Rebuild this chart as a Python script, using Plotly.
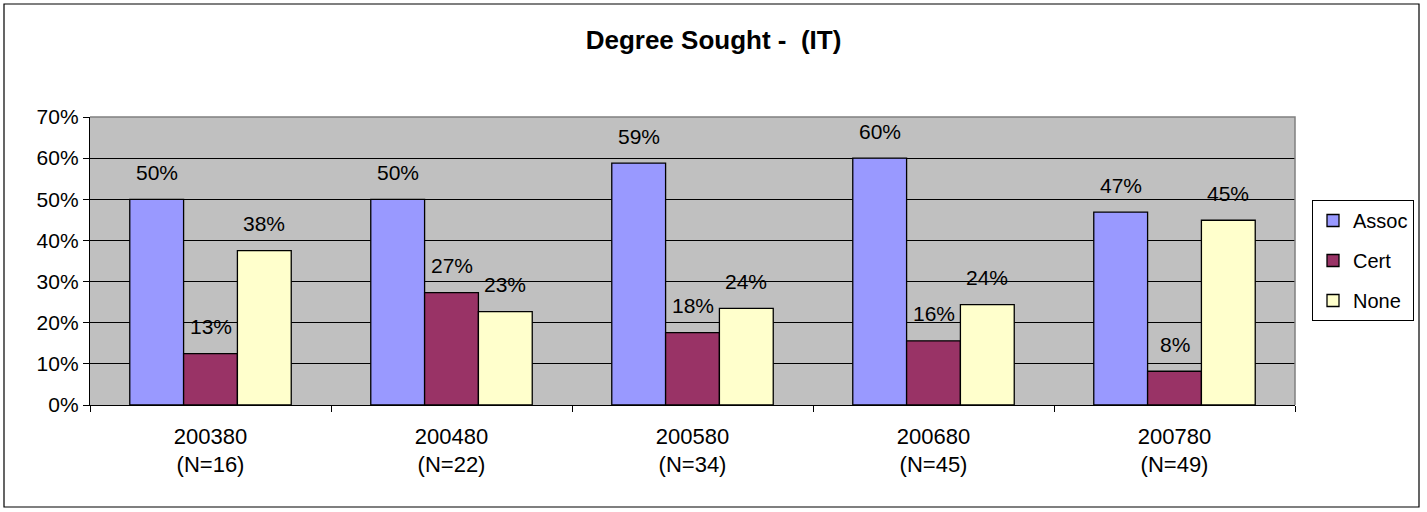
import plotly.graph_objects as go

# ---- data ----
categories = ["200380", "200480", "200580", "200680", "200780"]
sample_sizes = ["(N=16)", "(N=22)", "(N=34)", "(N=45)", "(N=49)"]
assoc = [50.0, 50.0, 58.8, 60.0, 46.9]
cert = [12.5, 27.3, 17.6, 15.6, 8.2]
none_ = [37.5, 22.7, 23.5, 24.4, 44.9]
series_names = ["Assoc", "Cert", "None"]
y_ticks = [0, 10, 20, 30, 40, 50, 60, 70]

# ---- style ----
colors = ["#9999FF", "#993366", "#FFFFCC"]
FONT = "Liberation Sans, Arial, sans-serif"
W, H = 1427, 512
L, R, T, B = 90, 132, 117, 107
BARGAP = 0.33

series_vals = [assoc, cert, none_]
ticktext = [f"{c}<br>{n}" for c, n in zip(categories, sample_sizes)]

fig = go.Figure()
for name, vals, col in zip(series_names, series_vals, colors):
    fig.add_trace(go.Bar(
        x=categories, y=vals, name=name,
        marker=dict(color=col, line=dict(color="black", width=1.3)),
        legendgroup=name,
    ))

# data labels above each bar
plot_w = W - L - R
cat_px = plot_w / len(categories)
bar_px = cat_px * (1 - BARGAP) / len(series_names)
for si, vals in enumerate(series_vals):
    for ci, v in enumerate(vals):
        fig.add_annotation(
            x=ci, y=v, xref="x", yref="y",
            text=f"{int(v + 0.5)}%", showarrow=False,
            xshift=(si - 1) * bar_px, yshift=27, yanchor="middle",
            font=dict(family=FONT, size=21, color="black"),
        )

# outer chart frame
def px2paper_x(px):
    return (px - L) / plot_w

def px2paper_y(py):
    return (H - B - py) / (H - T - B)

fig.add_shape(type="rect", xref="paper", yref="paper",
              x0=px2paper_x(4), x1=px2paper_x(1419),
              y0=px2paper_y(507), y1=px2paper_y(4),
              line=dict(color="black", width=1.2), fillcolor="rgba(0,0,0,0)",
              layer="below")
# plot-area top/right border (gray)
fig.add_shape(type="path", xref="paper", yref="paper",
              path="M 0,1 L 1,1 L 1,0",
              line=dict(color="#808080", width=1.5))

fig.update_layout(
    width=W, height=H,
    margin=dict(l=L, r=R, t=T, b=B, autoexpand=False),
    paper_bgcolor="white",
    plot_bgcolor="#C0C0C0",
    barmode="group", bargap=BARGAP, bargroupgap=0,
    title=dict(text="<b>Degree Sought -  (IT)</b>", x=0.5, xref="container",
               xanchor="center", y=(H - 40) / H, yanchor="middle",
               font=dict(family=FONT, size=26, color="black")),
    font=dict(family=FONT, size=21, color="black"),
    legend=dict(
        x=px2paper_x(1312), y=px2paper_y(200), xanchor="left", yanchor="top",
        bgcolor="white", bordercolor="black", borderwidth=1,
        font=dict(family=FONT, size=20, color="black"),
        tracegroupgap=11, traceorder="grouped",
    ),
    showlegend=True,
)
fig.update_xaxes(
    type="category", range=[-0.5, len(categories) - 0.5],
    tickmode="array", tickvals=categories, ticktext=ticktext,
    tickson="boundaries", ticks="outside", ticklen=6, tickcolor="black",
    showline=True, linecolor="black", linewidth=1.3,
    showgrid=False, tickfont=dict(family=FONT, size=22, color="black"),
    ticklabelstandoff=11,
    tickangle=0, fixedrange=True,
)
fig.update_yaxes(
    range=[0, 70], tickmode="array", tickvals=y_ticks,
    ticktext=[f"{t}%" for t in y_ticks],
    ticks="outside", ticklen=6, tickcolor="black",
    showline=True, linecolor="black", linewidth=1.3,
    showgrid=True, gridcolor="black", gridwidth=1,
    zeroline=False, tickfont=dict(family=FONT, size=21, color="black"),
    fixedrange=True,
)

fig.write_html("out.html", config={"displayModeBar": False},
               post_script="document.body.style.margin='0';document.body.style.padding='0';")
